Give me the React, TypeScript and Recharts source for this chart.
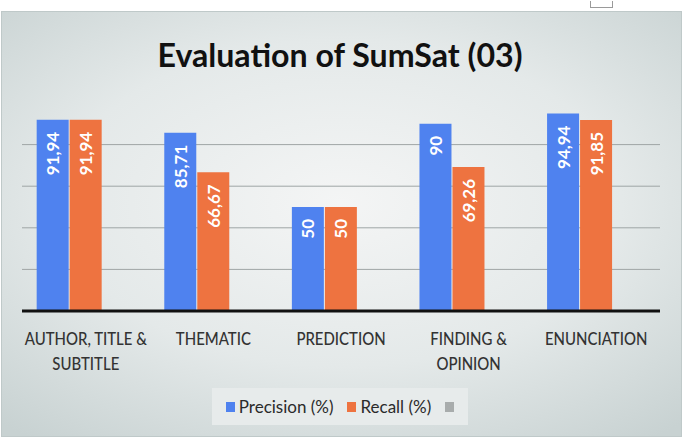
import React from 'react';
import { BarChart, Bar, XAxis, YAxis, CartesianGrid, Legend, LabelList } from 'recharts';

const title = 'Evaluation of SumSat (03)';
const categories = ['AUTHOR, TITLE &\nSUBTITLE', 'THEMATIC', 'PREDICTION', 'FINDING &\nOPINION', 'ENUNCIATION'];
const precision = [91.94, 85.71, 50, 90, 94.94];
const recall = [91.94, 66.67, 50, 69.26, 91.85];
const thirdSeries: (number | null)[] = [null, null, null, null, null];
const seriesNames = ['Precision (%)', 'Recall (%)', ''];
const seriesColors = ['#4f82ef', '#ee7340', '#a8acac'];
const yTicks = [0, 20, 40, 60, 80, 100];
const gridValues = [20, 40, 60, 80];

const data = categories.map((c, i) => ({
  category: c,
  precision: precision[i],
  recall: recall[i],
  other: thirdSeries[i],
}));

const FONT = 'Lato, "Open Sans", sans-serif';

const CategoryTick = (props: any) => {
  const { x, y, payload } = props;
  const lines = String(payload.value).split('\n');
  return (
    <g>
      {lines.map((l, i) => (
        <text
          key={i}
          transform={`translate(${x},${y + 27 + i * 25}) scale(0.88,1)`}
          textAnchor="middle"
          dominantBaseline="central"
          fill="#333"
          fontFamily={FONT}
          fontWeight={500}
          fontSize={17}
        >
          {l}
        </text>
      ))}
    </g>
  );
};

const VLabel = (props: any) => {
  const { x, y, width, value } = props;
  if (value === null || value === undefined) return null;
  const cx = Number(x) + Number(width) / 2;
  const ty = Number(y) + 12;
  return (
    <text
      transform={`translate(${cx},${ty}) rotate(-90)`}
      textAnchor="end"
      dominantBaseline="central"
      fill="#ffffff"
      fontFamily={FONT}
      fontWeight={700}
      fontSize={17}
    >
      {String(value).replace('.', ',')}
    </text>
  );
};

const LegendContent = () => (
  <div
    style={{
      width: '100%',
      height: '100%',
      background: '#e7ebeb',
      display: 'flex',
      alignItems: 'center',
      justifyContent: 'center',
      fontFamily: FONT,
      fontSize: 17,
      color: '#2a2a2a',
      boxSizing: 'border-box',
    }}
  >
    {seriesNames.map((n, i) => (
      <span key={i} style={{ display: 'inline-flex', alignItems: 'center', marginRight: i < 2 ? 14 : 0 }}>
        <span style={{ display: 'inline-block', width: 9, height: 10, background: seriesColors[i], marginRight: n ? 4 : 0 }} />
        {n ? <span>{n}</span> : null}
      </span>
    ))}
  </div>
);

export default function App() {
  return (
    <div style={{ position: 'absolute', left: 0, top: 0, width: 685, height: 441, background: '#ffffff', overflow: 'hidden' }}>
      <div
        style={{
          position: 'absolute',
          left: 590,
          top: 1,
          width: 21,
          height: 6,
          border: '1.5px solid #9a9a9a',
          borderTop: 'none',
        }}
      />
      <div
        style={{
          position: 'absolute',
          left: 1,
          top: 11,
          width: 681,
          height: 426,
          background: 'radial-gradient(ellipse 75% 70% at 50% 45%, #f4f5f5 0%, #e4e9e9 55%, #c8d2d2 100%)',
          border: '1px solid #bfc9c9',
          boxSizing: 'border-box',
        }}
      />
      <svg style={{ position: 'absolute', left: 0, top: 0 }} width={685} height={100}>
        <text
          x={340}
          y={54}
          textAnchor="middle"
          dominantBaseline="central"
          fontFamily={FONT}
          fontWeight={700}
          fontSize={32}
          fill="#111"
          textLength={365}
          lengthAdjust="spacingAndGlyphs"
        >
          {title}
        </text>
      </svg>
      <div style={{ position: 'absolute', left: 0, top: 0 }}>
        <BarChart
          width={685}
          height={441}
          data={data}
          margin={{ top: 103, right: 25, left: 22, bottom: 0 }}
          barCategoryGap="11.5%"
          barGap={1}
        >
          <CartesianGrid vertical={false} stroke="#9fa5a5" strokeWidth={1} horizontalValues={gridValues} />
          <YAxis hide domain={[0, 100]} ticks={yTicks} />
          <XAxis
            dataKey="category"
            height={130}
            tickLine={false}
            tickSize={0}
            tickMargin={0}
            axisLine={{ stroke: '#111', strokeWidth: 3 }}
            tick={<CategoryTick />}
            interval={0}
          />
          <Legend
            layout="horizontal"
            verticalAlign="middle"
            align="center"
            content={<LegendContent />}
            wrapperStyle={{ left: 212, top: 388, width: 256, height: 37 }}
          />
          <Bar dataKey="precision" name={seriesNames[0]} fill={seriesColors[0]} isAnimationActive={false}>
            <LabelList dataKey="precision" content={<VLabel />} />
          </Bar>
          <Bar dataKey="recall" name={seriesNames[1]} fill={seriesColors[1]} isAnimationActive={false}>
            <LabelList dataKey="recall" content={<VLabel />} />
          </Bar>
          <Bar dataKey="other" name={seriesNames[2]} fill={seriesColors[2]} isAnimationActive={false} />
        </BarChart>
      </div>
    </div>
  );
}
